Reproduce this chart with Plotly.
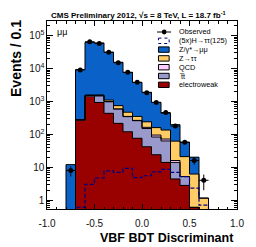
import plotly.graph_objects as go

# ---------------- data ----------------
bin_lo = [-0.8, -0.7, -0.6, -0.5, -0.4, -0.3, -0.2, -0.1, 0.0, 0.1, 0.2, 0.3, 0.4, 0.5, 0.6]
bin_width = 0.1

observed = [8, 9100, 65000, 58000, 31500, 15000, 7700, 3800, 1850, 930, 460, 178, 57, 16, 4]
observed_err = [2.8, 95, 255, 240, 177, 122, 88, 62, 43, 30, 21, 13, 7.5, 4, 2]

electroweak = [0, 270, 1450, 930, 435, 215, 120, 76, 42, 24, 14, 4.4, 2.8, 0.6, 0]
ttbar = [0, 5, 50, 550, 545, 370, 225, 184, 108, 59, 49, 9.6, 2.4, 0, 0]
qcd = [0, 0, 10, 15, 10, 5, 5, 5, 13, 12, 9, 2, 0, 0, 0]
ztautau = [0, 3, 60, 80, 110, 155, 120, 85, 77, 65, 63, 46, 15.8, 5.6, 1.15]
zmumu = [12, 9000, 61400, 58400, 29900, 14750, 7130, 3450, 1660, 780, 305, 135, 37, 14, 0]
signal_x5 = [0, 0.6, 3.0, 4.7, 7.7, 7.0, 9.2, 4.8, 5.5, 7.2, 8.6, 7.0, 5.2, 2.3, 0.7]

x_tick_vals = [-1.0, -0.5, 0.0, 0.5, 1.0]
x_tick_text = ["-1.0", "-0.5", "0.0", "0.5", "1.0"]

legend_labels = ["Observed", "(5x)H\u2192\u03c4\u03c4(125)", "Z/\u03b3*\u2192\u03bc\u03bc",
                 "Z\u2192\u03c4\u03c4", "QCD", "t\u0305t", "electroweak"]

# ---------------- styles ----------------
C_EWK = "#990000"
C_TT = "#9999cc"
C_QCD = "#ffccff"
C_ZTT = "#ffcc66"
C_ZMM = "#0a62c9"
C_SIG = "#000080"
FONT = "Liberation Sans, Arial, Helvetica, sans-serif"

# window and plot area in pixels (page body has an 8px margin)
OFF = 8
WIN_W, WIN_H = 256, 247
L, R, T, B = 47, 13, 21, 38
PW, PH = WIN_W - L - R, WIN_H - T - B


def px(x):
    return (x - L) / PW


def py(y):
    return (WIN_H - B - y) / PH


centers = [lo + bin_width / 2 for lo in bin_lo]
FLOOR = 1e-3


def step_xy(vals):
    xs = [bin_lo[0]]
    ys = [FLOOR]
    for lo, v in zip(bin_lo, vals):
        xs.append(lo)
        ys.append(v if v > 0 else FLOOR)
    xs.append(bin_lo[-1] + bin_width)
    ys.append(ys[-1])
    xs.append(bin_lo[-1] + bin_width)
    ys.append(FLOOR)
    return xs, ys


components = [(electroweak, C_EWK), (ttbar, C_TT), (qcd, C_QCD), (ztautau, C_ZTT), (zmumu, C_ZMM)]

fig = go.Figure()
for vals, col in components:
    fig.add_trace(go.Bar(x=centers, y=vals, width=bin_width, marker=dict(color=col, line=dict(width=0)),
                         showlegend=False, hoverinfo="skip"))

# black outlines of cumulative stack
cum = [0.0] * len(bin_lo)
for vals, col in components:
    cum = [c + v for c, v in zip(cum, vals)]
    xs, ys = step_xy(cum)
    fig.add_trace(go.Scatter(x=xs, y=ys, mode="lines", line=dict(color="black", width=1, shape="hv"),
                             showlegend=False, hoverinfo="skip"))

# signal
xs, ys = step_xy(signal_x5)
fig.add_trace(go.Scatter(x=xs, y=ys, mode="lines", line=dict(color=C_SIG, width=1.2, dash="4px,2px", shape="hv"),
                         showlegend=False, hoverinfo="skip"))

# observed
fig.add_trace(go.Scatter(x=centers, y=observed, mode="markers",
                         marker=dict(color="black", size=5),
                         error_y=dict(type="data", array=observed_err, color="black", thickness=1, width=0),
                         error_x=dict(type="constant", value=bin_width / 2, color="black", thickness=1, width=0),
                         showlegend=False))

fig.update_layout(
    width=WIN_W - OFF, height=WIN_H - OFF, margin=dict(l=L - OFF, r=R, t=T - OFF, b=B, pad=0),
    plot_bgcolor="white", paper_bgcolor="white",
    barmode="stack", bargap=0, showlegend=False,
    font=dict(family=FONT, color="black"),
)
fig.update_xaxes(range=[-1, 1], tickvals=x_tick_vals, ticktext=x_tick_text,
                 ticks="inside", ticklen=5, tickwidth=1, tickcolor="black", ticklabelstandoff=5,
                 showline=True, linecolor="black", linewidth=1, mirror="allticks",
                 showgrid=False, zeroline=False, tickfont=dict(size=10, family=FONT, color="#111"),
                 minor=dict(tick0=-1, dtick=0.1, ticks="inside", ticklen=2.5, tickcolor="black", showgrid=False))
fig.update_yaxes(type="log", range=[-0.27, 5.445], dtick=1, exponentformat="power",
                 ticks="inside", ticklen=6, tickwidth=1, tickcolor="black",
                 showline=True, linecolor="black", linewidth=1, mirror="allticks",
                 showgrid=False, zeroline=False, tickfont=dict(size=8, family=FONT, color="#111"),
                 minor=dict(ticks="inside", ticklen=3, tickcolor="black", showgrid=False))

ann = []
ann.append(dict(text="<b>CMS Preliminary 2012, \u221as = 8 TeV, L = 18.7 fb<sup>-1</sup></b>",
                x=px(141.5), y=py(14.5), xref="paper", yref="paper", xanchor="center", yanchor="middle",
                showarrow=False, font=dict(size=8, family=FONT)))
ann.append(dict(text="\u03bc\u03bc", x=px(55), y=py(32), xref="paper", yref="paper",
                xanchor="left", yanchor="middle", showarrow=False, font=dict(size=9, family=FONT)))
ann.append(dict(text="<b>VBF BDT Discriminant</b>", x=px(242), y=py(238), xref="paper", yref="paper",
                xanchor="right", yanchor="middle", showarrow=False, font=dict(size=12.5, family=FONT)))
ann.append(dict(text="<b>Events / 0.1</b>", x=px(14.5), y=py(18), xref="paper", yref="paper",
                xanchor="center", yanchor="top", textangle=-90, showarrow=False, font=dict(size=14, family=FONT)))

shapes = []
leg_y0, leg_dy = 32, 8.8
box_x0, box_x1, box_h = 162, 173, 5.4
text_x = 181.5
for i, lab in enumerate(legend_labels):
    yc = leg_y0 + i * leg_dy
    ann.append(dict(text=lab, x=px(text_x), y=py(yc), xref="paper", yref="paper",
                    xanchor="left", yanchor="middle", showarrow=False, font=dict(size=7.3, family=FONT)))
    if i == 0:
        shapes.append(dict(type="line", xref="paper", yref="paper", x0=px(160.5), x1=px(175),
                           y0=py(yc), y1=py(yc), line=dict(color="black", width=1)))
        shapes.append(dict(type="circle", xref="paper", yref="paper", x0=px(165.5), x1=px(170.3),
                           y0=py(yc - 2.4), y1=py(yc + 2.4), fillcolor="black", line=dict(width=0)))
    elif i == 1:
        shapes.append(dict(type="rect", xref="paper", yref="paper", x0=px(box_x0), x1=px(box_x1),
                           y0=py(yc - box_h / 2), y1=py(yc + box_h / 2), fillcolor="white",
                           line=dict(color=C_SIG, width=1, dash="dot")))
    else:
        col = [C_ZMM, C_ZTT, C_QCD, C_TT, C_EWK][i - 2]
        shapes.append(dict(type="rect", xref="paper", yref="paper", x0=px(box_x0), x1=px(box_x1),
                           y0=py(yc - box_h / 2), y1=py(yc + box_h / 2), fillcolor=col,
                           line=dict(color="black", width=1)))

fig.update_layout(annotations=ann, shapes=shapes)
fig.write_html("out.html")
